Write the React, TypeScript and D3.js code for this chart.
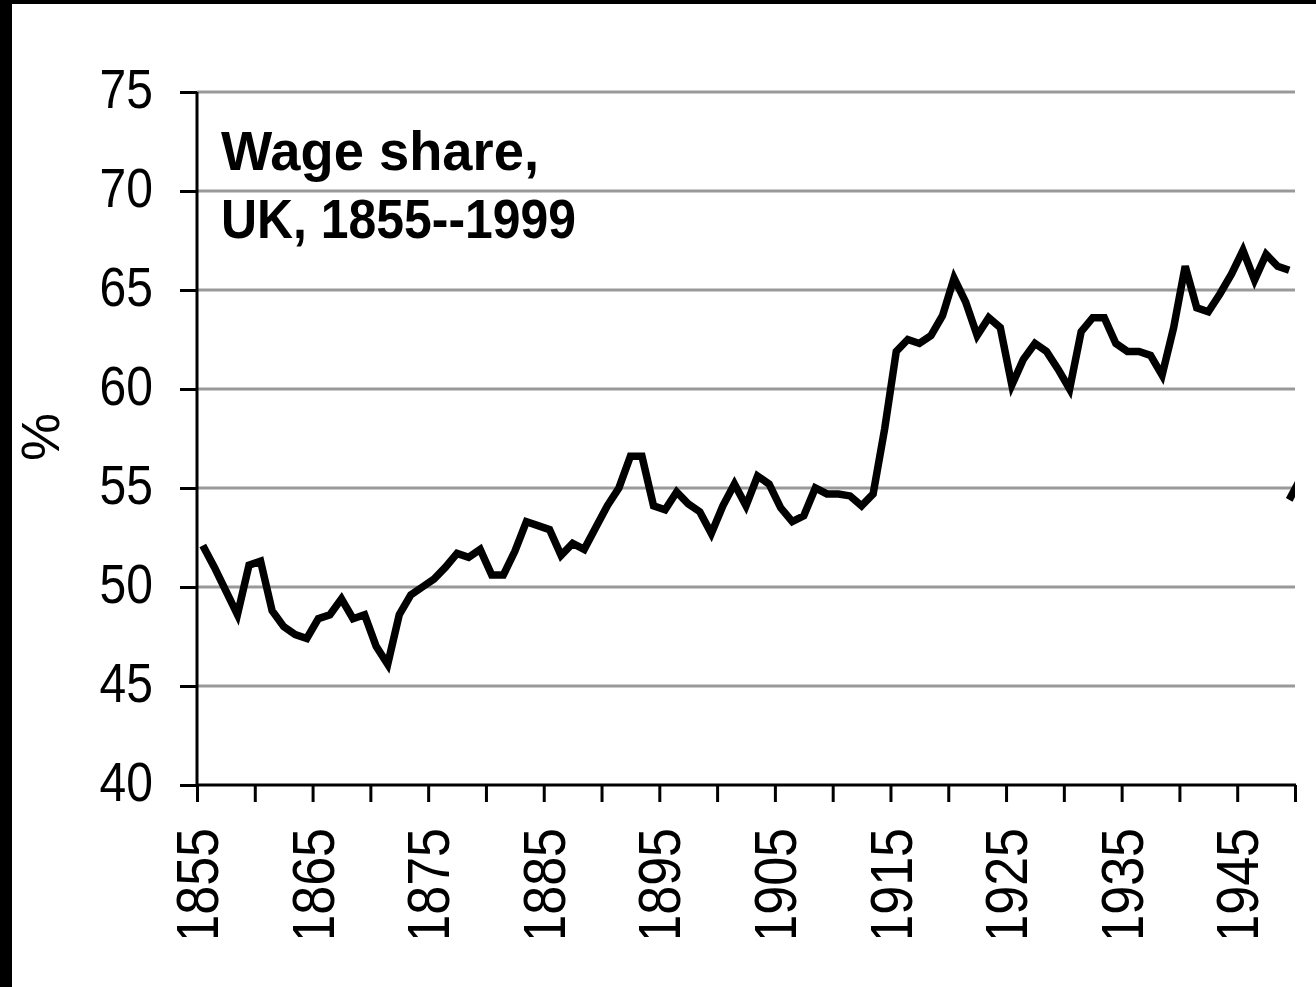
import React, { useEffect, useRef } from 'react';
import * as d3 from 'd3';

// wage share (% of national income), one value per year 1855..1949
const years = d3.range(1855, 1950);
const wageShare = [
  52.1, 51.0, 49.8, 48.6, 51.1, 51.3, 48.8, 48.0, 47.6, 47.4, // 1855-1864
  48.4, 48.6, 49.4, 48.4, 48.6, 47.0, 46.1, 48.6, 49.6, 50.0, // 1865-1874
  50.4, 51.0, 51.7, 51.5, 51.9, 50.6, 50.6, 51.8, 53.3, 53.1, // 1875-1884
  52.9, 51.6, 52.2, 51.9, 53.0, 54.1, 55.0, 56.6, 56.6, 54.1, // 1885-1894
  53.9, 54.8, 54.2, 53.8, 52.7, 54.1, 55.2, 54.1, 55.6, 55.2, // 1895-1904
  54.0, 53.3, 53.6, 55.0, 54.7, 54.7, 54.6, 54.1, 54.7, 58.0, // 1905-1914
  61.9, 62.5, 62.3, 62.7, 63.7, 65.6, 64.4, 62.7, 63.6, 63.1, // 1915-1924
  60.2, 61.5, 62.3, 61.9, 61.0, 60.0, 62.9, 63.6, 63.6, 62.3, // 1925-1934
  61.9, 61.9, 61.7, 60.7, 63.1, 66.2, 64.1, 63.9, 64.8, 65.8, // 1935-1944
  67.0, 65.5, 66.8, 66.2, 66.0, // 1945-1949
];

// the post-war series starts again at a lower level (only its start is visible)
const laterYears = [1949, 1950];
const laterShare = [54.4, 55.5];

const yTicks = [40, 45, 50, 55, 60, 65, 70, 75];
const xLabels = d3.range(1855, 1950, 10);

const titleLines = ['Wage share,', 'UK, 1855--1999'];

const W = 1316;
const H = 987;

const App: React.FC = () => {
  const svgRef = useRef<SVGSVGElement>(null);

  useEffect(() => {
    if (!svgRef.current) return;
    const svg = d3.select(svgRef.current);
    svg.selectAll('*').remove();

    const font = '"Liberation Sans", Arial, sans-serif';
    const left = 197;
    const right = 1295;
    const top = 92;
    const bottom = 785;

    // categories sit between tick marks: ticks on the half years
    const x = d3.scaleLinear().domain([1854.5, 1949.5]).range([left, right]);
    const y = d3.scaleLinear().domain([40, 75]).range([bottom, top]);
    const xTicks = d3.range(1854.5, 1950, 5);

    svg.append('rect').attr('width', W).attr('height', H).attr('fill', '#fff');

    // frame edges
    svg.append('rect').attr('x', 0).attr('y', 0).attr('width', W).attr('height', 4).attr('fill', '#000');
    svg.append('rect').attr('x', 0).attr('y', 0).attr('width', 12).attr('height', H).attr('fill', '#000');

    // gridlines
    svg.append('g')
      .selectAll('line')
      .data(yTicks.filter(d => d > 40))
      .join('line')
      .attr('x1', left)
      .attr('x2', right)
      .attr('y1', d => y(d))
      .attr('y2', d => y(d))
      .attr('stroke', '#999')
      .attr('stroke-width', 3);

    // y axis
    const yAxis = svg.append('g')
      .attr('transform', `translate(${left},0)`)
      .call(d3.axisLeft(y).tickValues(yTicks).tickSize(17).tickFormat(() => ''));
    yAxis.select('.domain').attr('stroke', '#000').attr('stroke-width', 3).attr('d', `M0,${top}V${bottom}`);
    yAxis.selectAll('.tick line').attr('stroke', '#000').attr('stroke-width', 3);

    svg.append('g')
      .selectAll('text')
      .data(yTicks)
      .join('text')
      .attr('transform', d => `translate(153,${y(d) - 4}) scale(1,1.16)`)
      .attr('text-anchor', 'end')
      .attr('dy', '0.36em')
      .attr('font-family', font)
      .attr('font-size', 48)
      .text(d => d);

    // x axis
    const xAxis = svg.append('g')
      .attr('transform', `translate(0,${bottom})`)
      .call(d3.axisBottom(x).tickValues(xTicks).tickSize(17).tickFormat(() => ''));
    xAxis.select('.domain').attr('stroke', '#000').attr('stroke-width', 3).attr('d', `M${left},0H${right + 1}`);
    xAxis.selectAll('.tick line').attr('stroke', '#000').attr('stroke-width', 3);

    // labels are cut off by the bottom of the chart area
    svg.append('clipPath')
      .attr('id', 'label-clip')
      .append('rect')
      .attr('x', 0)
      .attr('y', 0)
      .attr('width', W)
      .attr('height', 937);

    svg.append('g')
      .attr('clip-path', 'url(#label-clip)')
      .selectAll('text')
      .data(xLabels)
      .join('text')
      .attr('transform', d => `translate(${x(d - 0.5)},828) rotate(-90) scale(1,1.13)`)
      .attr('text-anchor', 'end')
      .attr('dy', '0.36em')
      .attr('font-family', font)
      .attr('font-size', 52)
      .text(d => d);

    // % label
    svg.append('text')
      .attr('transform', 'translate(40,437) rotate(-90)')
      .attr('text-anchor', 'middle')
      .attr('dy', '0.36em')
      .attr('font-family', font)
      .attr('font-size', 54)
      .text('%');

    // title, condensed bold
    const lens = [318, 355];
    titleLines.forEach((t, i) => {
      svg.append('text')
        .attr('x', 221)
        .attr('y', 170 + i * 68)
        .attr('font-family', font)
        .attr('font-weight', 'bold')
        .attr('font-size', 56)
        .attr('textLength', lens[i])
        .attr('lengthAdjust', 'spacingAndGlyphs')
        .text(t);
    });

    // series, clipped to the plot width
    svg.append('clipPath')
      .attr('id', 'plot-clip')
      .append('rect')
      .attr('x', left)
      .attr('y', 0)
      .attr('width', right - left)
      .attr('height', H);

    const line = d3.line<[number, number]>()
      .x(d => x(d[0]))
      .y(d => y(d[1]));

    const plot = svg.append('g').attr('clip-path', 'url(#plot-clip)');

    plot.append('path')
      .datum(years.map((yr, i) => [yr, wageShare[i]] as [number, number]))
      .attr('d', line)
      .attr('fill', 'none')
      .attr('stroke', '#000')
      .attr('stroke-width', 7.5)
      .attr('stroke-linejoin', 'miter');

    plot.append('path')
      .datum(laterYears.map((yr, i) => [yr, laterShare[i]] as [number, number]))
      .attr('d', line)
      .attr('fill', 'none')
      .attr('stroke', '#000')
      .attr('stroke-width', 7.5);
  }, []);

  return (
    <svg
      ref={svgRef}
      width={W}
      height={H}
      style={{ position: 'absolute', left: 0, top: 0, display: 'block' }}
    />
  );
};

export default App;
